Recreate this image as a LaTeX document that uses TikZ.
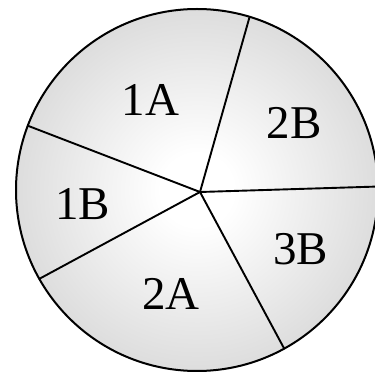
\documentclass[tikz,border=0pt]{standalone}
\usepackage{fontspec}
\setmainfont{Liberation Serif}
\usetikzlibrary{calc}
\pgfdeclareradialshading{discshade}{\pgfpoint{0bp}{0bp}}{color(0bp)=(white); color(5bp)=(white); color(50bp)=(black!30); color(100bp)=(black!30)}
\tikzset{
	rim/.style={line width=2pt},
	spoke/.style={line width=1.9pt},
	sector/.style={inner sep=0pt, font=\fontsize{47}{47}\selectfont}
}
\begin{document}
\begin{tikzpicture}[x=1pt, y=1pt, line cap=round, line join=round]
	\useasboundingbox (0,0) rectangle (375,375);
	% disc
	\coordinate (c) at (197,185);
	\shade[shading=discshade, rim] (c) circle (181);
	\draw[rim] (c) circle (181);

	% spokes
	\coordinate (hub) at (200,183);
	\foreach \a/\n in {159.2/ul, 73.1/ur, 1.1/r, -61.2/lr, 209.4/ll} {
		\coordinate (\n) at ($(c)+(\a:181)$);
		\draw[spoke] (hub) -- (\n);
	}

	% labels
	\node[sector] (s1A) at (150.5,275) {1A};
	\node[sector] (s2B) at (294,252) {2B};
	\node[sector] (s1B) at (82.5,171) {1B};
	\node[sector] (s3B) at (300.5,126) {3B};
	\node[sector] (s2A) at (171,81) {2A};
\end{tikzpicture}
\end{document}
